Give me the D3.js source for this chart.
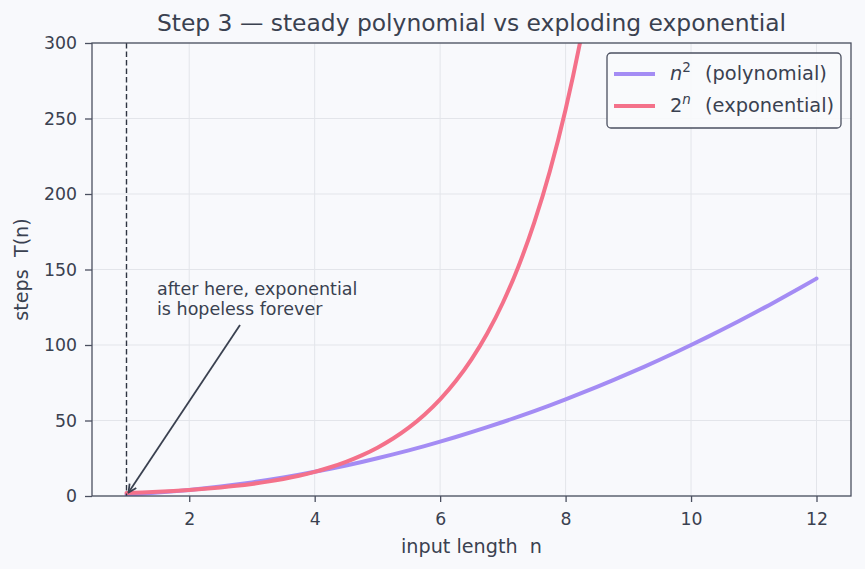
<!DOCTYPE html>
<html><head><meta charset="utf-8">
<script src="https://cdn.jsdelivr.net/npm/d3@7"></script>
<style>
html,body{margin:0;padding:0;background:#f8f9fc;}
svg{display:block;font-family:"DejaVu Sans",sans-serif;}
text{white-space:pre;}
</style></head>
<body><svg id="c" width="865" height="569"></svg>
<script>
const polyN = [1,1.25,1.5,1.75,2,2.25,2.5,2.75,3,3.25,3.5,3.75,4,4.25,4.5,4.75,5,5.25,5.5,5.75,6,6.25,6.5,6.75,7,7.25,7.5,7.75,8,8.25,8.5,8.75,9,9.25,9.5,9.75,10,10.25,10.5,10.75,11,11.25,11.5,11.75,12];
const polyT = [1,1.56,2.25,3.06,4,5.06,6.25,7.56,9,10.56,12.25,14.06,16,18.06,20.25,22.56,25,27.56,30.25,33.06,36,39.06,42.25,45.56,49,52.56,56.25,60.06,64,68.06,72.25,76.56,81,85.56,90.25,95.06,100,105.06,110.25,115.56,121,126.56,132.25,138.06,144];
const expN = [1,1.25,1.5,1.75,2,2.25,2.5,2.75,3,3.25,3.5,3.75,4,4.25,4.5,4.75,5,5.25,5.5,5.75,6,6.25,6.5,6.75,7,7.25,7.5,7.75,8,8.25,8.5];
const expT = [2,2.38,2.83,3.36,4,4.76,5.66,6.73,8,9.51,11.31,13.45,16,19.03,22.63,26.91,32,38.05,45.25,53.82,64,76.11,90.51,107.63,128,152.22,181.02,215.27,256,304.44,362.04];
const xTicks = [2,4,6,8,10,12];
const yTicks = [0,50,100,150,200,250,300];
const markN = 1;
const title = "Step 3 — steady polynomial vs exploding exponential";
const annot = ["after here, exponential","is hopeless forever"];

const svg = d3.select("#c");
const L=92,R=851,T=43,B=496;
const text="#3a4150", spine="#4b5060";
const x=d3.scaleLinear().domain([0.45,12.55]).range([L,R]);
const y=d3.scaleLinear().domain([0,300]).range([B,T]);

svg.append("rect").attr("width",865).attr("height",569).attr("fill","#f8f9fc");
const defs=svg.append("defs");
defs.append("clipPath").attr("id","clip").append("rect").attr("x",L).attr("y",T).attr("width",R-L).attr("height",B-T);
const mk=defs.append("marker").attr("id","arr").attr("viewBox","0 0 10 10").attr("refX",9).attr("refY",5)
 .attr("markerWidth",10).attr("markerHeight",10).attr("markerUnits","userSpaceOnUse").attr("orient","auto");
mk.append("path").attr("d","M1,1 L9,5 L1,9").attr("fill","none").attr("stroke",text).attr("stroke-width",1.8);

// grid
const g=svg.append("g");
g.selectAll(".gx").data(xTicks).join("line").attr("x1",d=>x(d)).attr("x2",d=>x(d)).attr("y1",T).attr("y2",B).attr("stroke","#e3e5ea").attr("stroke-width",1);
g.selectAll(".gy").data(yTicks).join("line").attr("x1",L).attr("x2",R).attr("y1",d=>y(d)).attr("y2",d=>y(d)).attr("stroke","#e3e5ea").attr("stroke-width",1);

const line=d3.line().x(d=>x(d[0])).y(d=>y(d[1])).curve(d3.curveMonotoneX);
const pc=svg.append("g").attr("clip-path","url(#clip)");
pc.append("path").datum(polyN.map((n,i)=>[n,polyT[i]])).attr("d",line).attr("fill","none").attr("stroke","#a48cf4").attr("stroke-width",4).attr("stroke-linecap","round");
pc.append("path").datum(expN.map((n,i)=>[n,expT[i]])).attr("d",line).attr("fill","none").attr("stroke","#f4718a").attr("stroke-width",4).attr("stroke-linecap","round");

// dashed marker
svg.append("line").attr("x1",x(markN)).attr("x2",x(markN)).attr("y1",T).attr("y2",B).attr("stroke","#2f3542").attr("stroke-width",1.4).attr("stroke-dasharray","5.5,3");

// axes
const xa=svg.append("g").attr("transform",`translate(0,${B})`).call(d3.axisBottom(x).tickValues(xTicks).tickSize(6).tickPadding(11).tickFormat(d3.format("d")));
const ya=svg.append("g").attr("transform",`translate(${L},0)`).call(d3.axisLeft(y).tickValues(yTicks).tickSize(7).tickPadding(8));
[xa,ya].forEach(a=>{a.select(".domain").remove();a.selectAll("line").attr("stroke",spine).attr("stroke-width",1.3);
 a.selectAll("text").attr("fill",text).attr("font-size",17.3).attr("font-family","DejaVu Sans");});
svg.append("rect").attr("x",L).attr("y",T).attr("width",R-L).attr("height",B-T).attr("fill","none").attr("stroke",spine).attr("stroke-width",1.3);

// labels
svg.append("text").attr("x",(L+R)/2).attr("y",31).attr("text-anchor","middle").attr("fill",text).attr("font-size",23.4).text(title);
svg.append("text").attr("x",(L+R)/2).attr("y",553).attr("text-anchor","middle").attr("fill",text).attr("font-size",19.2).text("input length  n");
svg.append("text").attr("transform",`translate(28,${(T+B)/2}) rotate(-90)`).attr("text-anchor","middle").attr("fill",text).attr("font-size",19.2).text("steps  T(n)");

// annotation
const at=svg.append("text").attr("fill",text).attr("font-size",17.5);
annot.forEach((s,i)=>at.append("tspan").attr("x",157).attr("y",295+i*20).text(s));
svg.append("line").attr("x1",240).attr("y1",325).attr("x2",x(markN)+2).attr("y2",y(1)-2).attr("stroke",text).attr("stroke-width",1.8).attr("marker-end","url(#arr)");

// legend
const lg=svg.append("g");
lg.append("rect").attr("x",607).attr("y",53).attr("width",234).attr("height",75).attr("rx",4).attr("fill","#f8f9fc").attr("fill-opacity",0.9).attr("stroke","#4b5060").attr("stroke-width",1.3);
const items=[{c:"#a48cf4",base:"n",sup:"2",it:true,rest:"(polynomial)"},{c:"#f4718a",base:"2",sup:"n",it:false,rest:"(exponential)"}];
items.forEach((d,i)=>{
 const yy=74+i*32;
 lg.append("line").attr("x1",614).attr("x2",655).attr("y1",yy).attr("y2",yy).attr("stroke",d.c).attr("stroke-width",4);
 const t=lg.append("text").attr("x",670).attr("y",yy+6).attr("fill",text).attr("font-size",19.4);
 t.append("tspan").attr("font-style",d.it?"italic":null).text(d.base);
 t.append("tspan").attr("font-size",13.5).attr("dy",-8).attr("font-style",d.it?null:"italic").text(d.sup);
 t.append("tspan").attr("dy",8).attr("x",705).text(d.rest);
});
</script></body></html>
